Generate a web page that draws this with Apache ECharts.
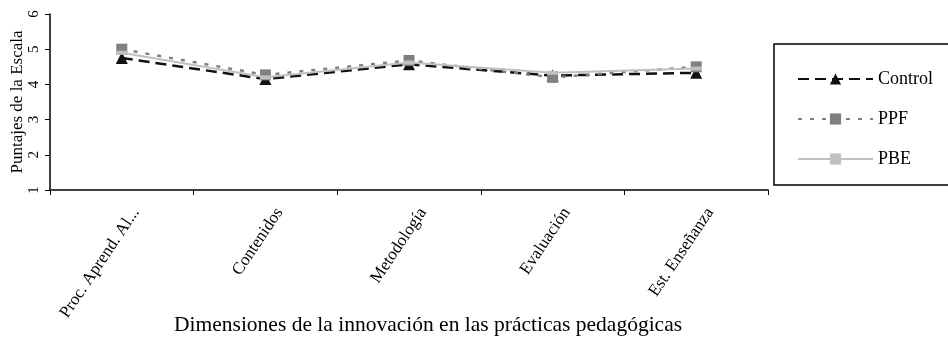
<!DOCTYPE html>
<html><head><meta charset="utf-8">
<script src="https://cdn.jsdelivr.net/npm/echarts@6/dist/echarts.min.js"></script>
<style>html,body{margin:0;padding:0;background:#fff}#c{width:948px;height:337px}</style>
</head><body><div id="c"></div>
<script>
var categories = ["Proc. Aprend. Al...", "Contenidos", "Metodología", "Evaluación", "Est. Enseñanza"];
var controlVals = [4.75, 4.15, 4.57, 4.25, 4.33];
var ppfVals = [5.0, 4.27, 4.68, 4.2, 4.5];
var pbeVals = [4.9, 4.2, 4.62, 4.33, 4.45];
var yTicks = [1, 2, 3, 4, 5, 6];
var xTitle = "Dimensiones de la innovación en las prácticas pedagógicas";
var yTitle = "Puntajes de la Escala";

var F = "Liberation Serif, Times New Roman, serif";
var chart = echarts.init(document.getElementById('c'));
chart.setOption({
  animation: false,
  backgroundColor: '#fff',
  grid: {left: 50, right: 180, top: 14, bottom: 147, containLabel: false, outerBoundsMode: 'none'},
  legend: {
    orient: 'vertical', left: 792, top: 65, itemWidth: 75, itemHeight: 14, itemGap: 22,
    textStyle: {fontFamily: F, fontSize: 18, color: '#000'},
    data: ['Control', 'PPF', 'PBE']
  },
  graphic: [
    {type: 'rect', shape: {x: 774, y: 44, width: 180, height: 141}, style: {fill: 'none', stroke: '#000', lineWidth: 1.5}, z: -1},
    {type: 'text', left: 174, top: 314, style: {text: xTitle, font: '21.5px ' + F, fill: '#000'}}
  ],
  xAxis: {
    type: 'category', data: categories, boundaryGap: true,
    axisLine: {lineStyle: {color: '#000', width: 1.5}},
    axisTick: {show: true, length: 5, lineStyle: {color: '#000'}},
    axisLabel: {rotate: 56, margin: 10, verticalAlign: 'top', lineHeight: 34, color: '#000', fontFamily: F, fontSize: 17, interval: 0}
  },
  yAxis: {
    type: 'value', min: yTicks[0], max: yTicks[yTicks.length - 1], interval: 1,
    name: yTitle, nameLocation: 'middle', nameGap: 24, nameRotate: 90, nameMoveOverlap: false,
    nameTextStyle: {fontFamily: F, fontSize: 17, color: '#000'},
    axisLine: {show: true, lineStyle: {color: '#000', width: 1.5}},
    axisTick: {show: true, length: 5, lineStyle: {color: '#000'}},
    splitLine: {show: false},
    axisLabel: {rotate: 90, margin: 8, color: '#000', fontFamily: F, fontSize: 15}
  },
  series: [
    {name: 'Control', type: 'line', data: controlVals, symbol: 'triangle', symbolSize: 12,
     itemStyle: {color: '#111'}, lineStyle: {color: '#111', width: 2.5, type: [11, 6]}, z: 2},
    {name: 'PPF', type: 'line', data: ppfVals, symbol: 'rect', symbolSize: 11,
     itemStyle: {color: '#808080'}, lineStyle: {color: '#808080', width: 2.5, type: [4, 8]}, z: 3},
    {name: 'PBE', type: 'line', data: pbeVals, symbol: 'rect', symbolSize: [11, 4],
     itemStyle: {color: '#c0c0c0'}, lineStyle: {color: '#c0c0c0', width: 2}, z: 4}
  ]
});
</script></body></html>
